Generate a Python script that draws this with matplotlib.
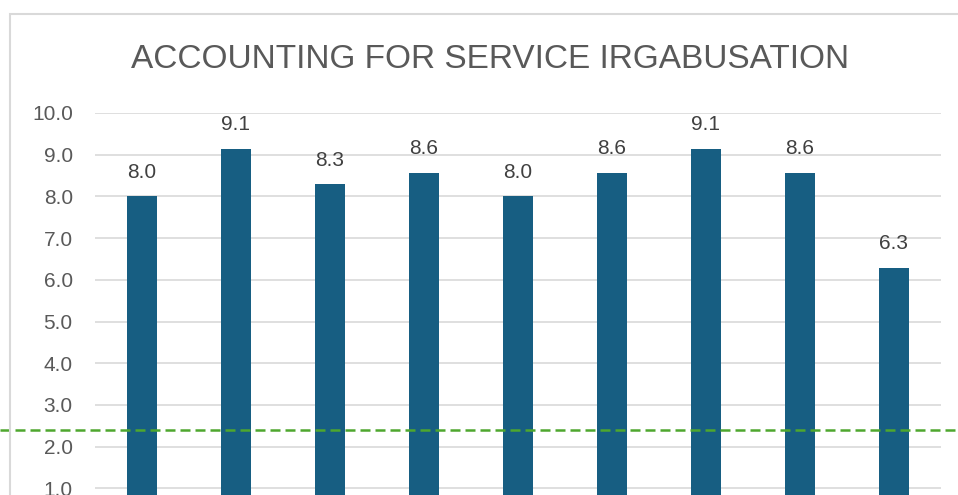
import matplotlib.pyplot as plt
from matplotlib.patches import Rectangle
from matplotlib.transforms import blended_transform_factory

# data
categories = ['1', '2', '3', '4', '5', '6', '7', '8', '9']
scores = [8.0, 9.14, 8.29, 8.57, 8.0, 8.57, 9.14, 8.57, 6.29]
threshold = 2.4
yticks = [1, 2, 3, 4, 5, 6, 7, 8, 9, 10]

bar_color = '#175E82'
grey_text = '#595959'
grid_color = '#D9D9D9'

plt.rcParams['font.family'] = ['Liberation Sans', 'DejaVu Sans']

fig = plt.figure(figsize=(9.58, 4.95), dpi=100)
W, H = 958, 495

# chart area border (continues past the crop)
fig.patches.append(Rectangle((10 / W, -0.2), 1.2, 1 - 14 / H + 0.2,
                             transform=fig.transFigure, fill=False,
                             edgecolor=grid_color, linewidth=1.5))

left, right = 95 / W, 941 / W
top, bottom = 1 - 113 / H, 1 - 530 / H
ax = fig.add_axes([left, bottom, right - left, top - bottom])

x = range(len(categories))
bars = ax.bar(x, scores, width=0.32, color=bar_color, zorder=3)
ax.set_xlim(-0.5, len(categories) - 0.5)
ax.set_ylim(0, 10)
ax.set_yticks(yticks)
ax.set_yticklabels([f'{v:.1f}' for v in yticks], color=grey_text, fontsize=15)
ax.tick_params(axis='y', length=0, pad=16)
ax.set_xticks([])
ax.grid(axis='y', color=grid_color, linewidth=1.2, zorder=0)
for s in ax.spines.values():
    s.set_visible(False)

for b, v in zip(bars, scores):
    ax.annotate(f'{v:.1f}', (b.get_x() + b.get_width() / 2, v),
                xytext=(0, 17.5), textcoords='offset points',
                ha='center', va='center', color='#404040', fontsize=15)

# threshold line across the whole picture
tr = blended_transform_factory(fig.transFigure, ax.transData)
ax.plot([0, 1], [threshold, threshold], transform=tr, clip_on=False,
        color='#4EA72E', linewidth=1.8, linestyle=(0, (4, 2)), zorder=4)

fig.text(0.512, 1 - 60 / H, 'ACCOUNTING FOR SERVICE IRGABUSATION',
         ha='center', va='center', color=grey_text, fontsize=24)

plt.savefig('out.png', dpi=100)
